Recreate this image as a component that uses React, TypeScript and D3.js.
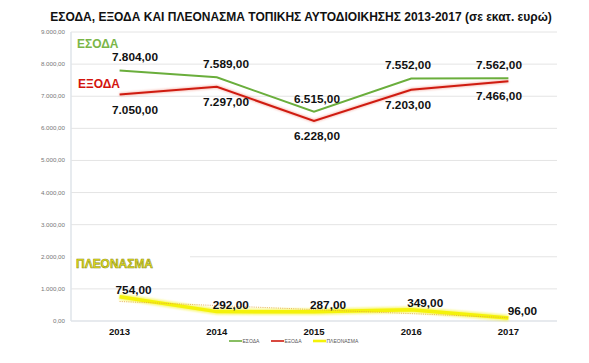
import * as d3 from "d3";
import React from "react";

// ΕΣΟΔΑ / ΕΞΟΔΑ / ΠΛΕΟΝΑΣΜΑ line chart
const years = ["2013", "2014", "2015", "2016", "2017"];
const esoda = [7804, 7589, 6515, 7552, 7562];
const exoda = [7050, 7297, 6228, 7203, 7466];
const pleonasma = [754, 292, 287, 349, 96];
const yTicks = [0, 1000, 2000, 3000, 4000, 5000, 6000, 7000, 8000, 9000];

const width = 589;
const height = 363;
const margin = { top: 32, right: 32, bottom: 42, left: 71 };

const GREEN = "#6aae3c";
const RED = "#cf1b10";
const YELLOW = "#f4f20a";

const fmt = (v: number) => {
  const [i, dec] = v.toFixed(2).split(".");
  return i.replace(/\B(?=(\d{3})+(?!\d))/g, ".") + "," + dec;
};

// linear regression trendline for the surplus series
function trend(values: number[]) {
  const xs = values.map((_, i) => i);
  const mx = d3.mean(xs)!;
  const my = d3.mean(values)!;
  const slope =
    d3.sum(xs, (x, i) => (x - mx) * (values[i] - my)) /
    d3.sum(xs, (x) => (x - mx) ** 2);
  return xs.map((x) => my + slope * (x - mx));
}

const App: React.FC = () => {
  const x = d3
    .scalePoint<string>()
    .domain(years)
    .range([margin.left, width - margin.right])
    .padding(0.5);
  const y = d3
    .scaleLinear()
    .domain([0, 9000])
    .range([height - margin.bottom, margin.top]);
  // value labels of the upper pair sit on their own spacing
  const labelX = d3.scalePoint<string>().domain(years).range([135, 499]);

  const line = d3
    .line<number>()
    .x((_, i) => x(years[i])!)
    .y((d) => y(d));

  const trendVals = trend(pleonasma);

  return (
    <svg
      width={width}
      height={height}
      style={{ position: "absolute", left: 0, top: 0, background: "#fff" }}
      fontFamily="Liberation Sans, Arial, sans-serif"
    >
      <defs>
        <filter id="glow" x="-10%" y="-50%" width="120%" height="200%">
          <feGaussianBlur stdDeviation="1.2" />
        </filter>
      </defs>

      <text
        x={301}
        y={21}
        textAnchor="middle"
        fontSize={12}
        fontWeight="bold"
        fill="#111"
      >
        ΕΣΟΔΑ, ΕΞΟΔΑ ΚΑΙ ΠΛΕΟΝΑΣΜΑ ΤΟΠΙΚΗΣ ΑΥΤΟΔΙΟΙΚΗΣΗΣ 2013-2017 (σε εκατ. ευρώ)
      </text>

      {/* grid */}
      {yTicks.map((t) => (
        <g key={t}>
          <line
            x1={margin.left}
            x2={width - margin.right}
            y1={y(t)}
            y2={y(t)}
            stroke={t === 0 ? "#dfe3e8" : "#e4e4e4"}
            strokeWidth={t === 0 ? 1.5 : 1}
          />
          <text
            x={65}
            y={y(t) + 2}
            textAnchor="end"
            fontSize={6.2}
            fill="#777"
          >
            {fmt(t)}
          </text>
        </g>
      ))}
      <line
        x1={margin.left}
        x2={margin.left}
        y1={margin.top}
        y2={height - margin.bottom}
        stroke="#dfe4ea"
        strokeWidth={1.5}
      />

      {/* category labels */}
      {years.map((yr) => (
        <text
          key={yr}
          x={x(yr)}
          y={335}
          textAnchor="middle"
          fontSize={9.5}
          fontWeight="bold"
          fill="#111"
        >
          {yr}
        </text>
      ))}

      {/* lines */}
      <path d={line(exoda)!} fill="none" stroke="#f08070" strokeWidth={3.5} opacity={0.5} filter="url(#glow)" />
      <path d={line(esoda)!} fill="none" stroke={GREEN} strokeWidth={2} />
      <path d={line(exoda)!} fill="none" stroke={RED} strokeWidth={2} />

      <path d={line(pleonasma)!} fill="none" stroke={YELLOW} strokeWidth={6} opacity={0.6} filter="url(#glow)" />
      <path d={line(pleonasma)!} fill="none" stroke={YELLOW} strokeWidth={3.5} strokeLinejoin="round" />
      <path
        d={line(trendVals)!}
        fill="none"
        stroke="#e0a040"
        strokeWidth={0.8}
        strokeDasharray="1 1.2"
      />

      {/* series captions */}
      <text x={77} y={48} fontSize={12} fontWeight="bold" fill="#7ab648">
        ΕΣΟΔΑ
      </text>
      <text x={78} y={88} fontSize={12} fontWeight="bold" fill="#d3140e">
        ΕΞΟΔΑ
      </text>
      <rect x={72} y={252} width={118} height={20} fill="#fff" />
      <text
        x={76}
        y={268}
        fontSize={12.5}
        fontWeight="bold"
        fill="#e6e41a"
        stroke="#8f8e1a"
        strokeWidth={0.6}
        textLength={77}
        lengthAdjust="spacingAndGlyphs"
      >
        ΠΛΕΟΝΑΣΜΑ
      </text>

      {/* value labels */}
      {esoda.map((v, i) => (
        <text
          key={"e" + i}
          x={labelX(years[i])}
          y={y(v) - 9}
          textAnchor="middle"
          fontSize={11.8}
          fontWeight="bold"
          fill="#111"
        >
          {fmt(v)}
        </text>
      ))}
      {exoda.map((v, i) => (
        <text
          key={"x" + i}
          x={labelX(years[i])}
          y={y(v) + 19}
          textAnchor="middle"
          fontSize={11.8}
          fontWeight="bold"
          fill="#111"
        >
          {fmt(v)}
        </text>
      ))}
      {pleonasma.map((v, i) => (
        <text
          key={"p" + i}
          x={x(years[i])! + 14}
          y={y(v) - 3}
          textAnchor="middle"
          fontSize={11.8}
          fontWeight="bold"
          fill="#111"
        >
          {fmt(v)}
        </text>
      ))}

      {/* legend */}
      {[
        { name: "ΕΣΟΔΑ", color: GREEN, x0: 229, w: 1.6 },
        { name: "ΕΞΟΔΑ", color: RED, x0: 271, w: 1.6 },
        { name: "ΠΛΕΟΝΑΣΜΑ", color: YELLOW, x0: 313, w: 2.6 },
      ].map((l) => (
        <g key={l.name}>
          <line x1={l.x0} x2={l.x0 + 13} y1={341} y2={341} stroke={l.color} strokeWidth={l.w} />
          <text x={l.x0 + 13.5} y={343} fontSize={5} fill="#555">
            {l.name}
          </text>
        </g>
      ))}
    </svg>
  );
};

export default App;
